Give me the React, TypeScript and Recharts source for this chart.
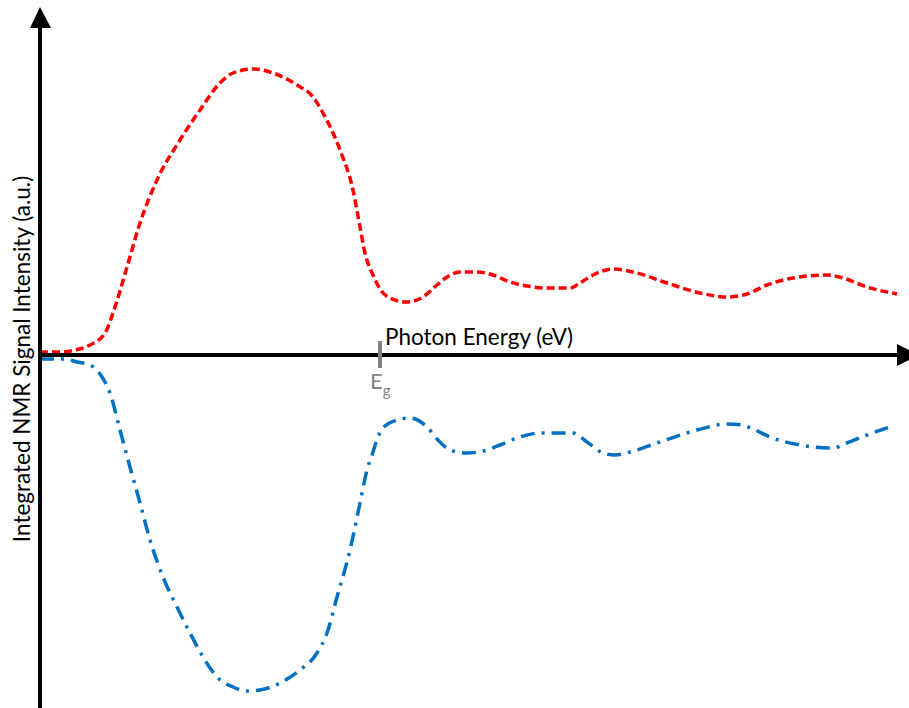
import React from 'react';
import { LineChart, Line, XAxis, YAxis, ReferenceLine } from 'recharts';

// photon energy (arbitrary units) and NMR signal (a.u.)
const redX = [0, 0.2, 0.35, 0.5, 0.65, 0.75, 0.87, 1.0, 1.17, 1.4, 1.6, 1.8, 1.93, 2.13, 2.33, 2.57, 2.73, 2.83, 3.0, 3.13, 3.2, 3.25, 3.33, 3.4, 3.5, 3.67, 3.83, 3.97, 4.07, 4.2, 4.37, 4.53, 4.7, 4.87, 5.07, 5.3, 5.4, 5.53, 5.73, 5.97, 6.27, 6.6, 6.87, 7.07, 7.27, 7.53, 7.87, 8.03, 8.27, 8.57];
const redY = [0.03, 0.03, 0.05, 0.1, 0.22, 0.48, 0.88, 1.32, 1.75, 2.15, 2.45, 2.72, 2.82, 2.86, 2.82, 2.7, 2.58, 2.42, 2.05, 1.65, 1.28, 1.02, 0.8, 0.66, 0.57, 0.53, 0.58, 0.7, 0.78, 0.83, 0.83, 0.8, 0.73, 0.69, 0.67, 0.67, 0.72, 0.8, 0.86, 0.82, 0.72, 0.62, 0.58, 0.61, 0.7, 0.77, 0.8, 0.77, 0.68, 0.61];

const blueX = [0, 0.25, 0.37, 0.5, 0.62, 0.7, 0.8, 0.9, 1.0, 1.1, 1.23, 1.37, 1.5, 1.63, 1.77, 1.93, 2.07, 2.2, 2.4, 2.6, 2.77, 2.87, 2.97, 3.1, 3.2, 3.27, 3.32, 3.38, 3.43, 3.57, 3.7, 3.87, 3.98, 4.1, 4.27, 4.43, 4.6, 4.77, 5.0, 5.2, 5.33, 5.47, 5.63, 5.75, 5.9, 6.2, 6.57, 6.87, 7.02, 7.13, 7.3, 7.6, 7.93, 8.07, 8.27, 8.5];
const blueY = [-0.04, -0.04, -0.07, -0.1, -0.22, -0.38, -0.75, -1.12, -1.48, -1.85, -2.22, -2.52, -2.78, -3.02, -3.22, -3.32, -3.36, -3.35, -3.28, -3.15, -2.98, -2.78, -2.42, -1.95, -1.48, -1.15, -1.0, -0.82, -0.73, -0.65, -0.63, -0.72, -0.85, -0.95, -0.98, -0.96, -0.9, -0.83, -0.78, -0.78, -0.78, -0.87, -0.98, -1.0, -0.97, -0.87, -0.75, -0.69, -0.7, -0.74, -0.82, -0.9, -0.93, -0.88, -0.8, -0.72];

const bandGap = 3.4;

const redData = redX.map((x, i) => ({ x, y: redY[i] }));
const blueData = blueX.map((x, i) => ({ x, y: blueY[i] }));

const FONT = 'Lato, "Open Sans", sans-serif';

// y axis with arrow head and rotated title
const YArrow = (props: any) => {
  const x = props.x1;
  const top = Math.min(props.y1, props.y2);
  const bottom = Math.max(props.y1, props.y2);
  return (
    <g>
      <line x1={x} y1={top + 22} x2={x} y2={bottom} stroke="#000" strokeWidth={4} />
      <polygon points={`${x},${top + 7} ${x - 10},${top + 28} ${x + 11},${top + 28}`} fill="#000" />
      <text
        transform={`translate(30,359) rotate(-90)`}
        textAnchor="middle"
        fontFamily={FONT}
        fontSize={22.5}
        fill="#000"
      >
        Integrated NMR Signal Intensity (a.u.)
      </text>
    </g>
  );
};

// x axis with arrow head, title above it
const XArrow = (props: any) => {
  const y = props.y1;
  const left = Math.min(props.x1, props.x2);
  const right = Math.max(props.x1, props.x2);
  return (
    <g>
      <line x1={left} y1={y} x2={right - 10} y2={y} stroke="#000" strokeWidth={4} />
      <polygon points={`${right - 12},${y - 11} ${right + 10},${y} ${right - 12},${y + 11}`} fill="#000" />
      <text x={385} y={345} fontFamily={FONT} fontSize={22.5} fill="#000">
        Photon Energy (eV)
      </text>
    </g>
  );
};

const GapTick = (props: any) => {
  const x = props.x1;
  const top = Math.min(props.y1, props.y2);
  const bottom = Math.max(props.y1, props.y2);
  return (
    <g>
      <line x1={x} y1={top} x2={x} y2={bottom} stroke="#808080" strokeWidth={4} />
      <text x={x - 10} y={389} fontFamily={FONT} fontSize={22} fill="#808080">
        E<tspan fontSize={15} dy={7}>g</tspan>
      </text>
    </g>
  );
};

export default function App() {
  return (
    <div style={{ position: 'absolute', left: 0, top: 0, background: '#fff' }}>
      <LineChart width={909} height={708} margin={{ top: 0, right: 0, bottom: 0, left: 40 }}>
        <XAxis type="number" dataKey="x" domain={[0, 8.69]} hide allowDataOverflow />
        <YAxis type="number" dataKey="y" domain={[-3.53, 3.55]} hide allowDataOverflow />
        <Line
          data={redData}
          dataKey="y"
          type="monotone"
          stroke="#ff0000"
          strokeWidth={3.5}
          strokeDasharray="8 4"
          dot={false}
          activeDot={false}
          isAnimationActive={false}
        />
        <Line
          data={blueData}
          dataKey="y"
          type="monotone"
          stroke="#0070c0"
          strokeWidth={3.5}
          strokeDasharray="14 7 3 7"
          dot={false}
          activeDot={false}
          isAnimationActive={false}
        />
        <ReferenceLine y={0} shape={XArrow} ifOverflow="visible" />
        <ReferenceLine x={0} shape={YArrow} ifOverflow="visible" />
        <ReferenceLine
          segment={[{ x: bandGap, y: 0.14 }, { x: bandGap, y: -0.13 }]}
          shape={GapTick}
        />
      </LineChart>
    </div>
  );
}
